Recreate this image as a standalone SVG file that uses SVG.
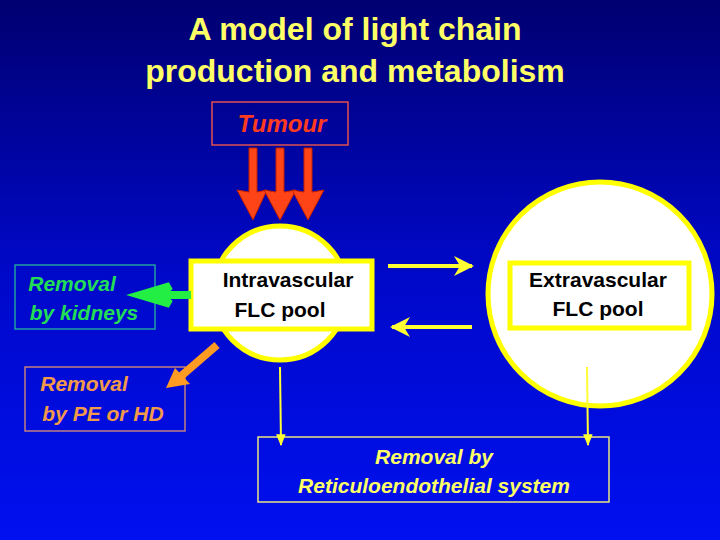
<svg xmlns="http://www.w3.org/2000/svg" width="720" height="540" viewBox="0 0 720 540">
<defs>
<linearGradient id="bg" x1="0" y1="0" x2="0" y2="1">
<stop offset="0" stop-color="#000070"/>
<stop offset="0.5" stop-color="#0008c8"/>
<stop offset="1" stop-color="#0010f0"/>
</linearGradient>
<marker id="ya" viewBox="0 0 10 10" refX="9" refY="5" markerWidth="5" markerHeight="5" orient="auto"><path d="M0,0 L10,5 L0,10 L3,5 Z" fill="#ffff33"/></marker>
<marker id="ys" viewBox="0 0 10 10" refX="9" refY="5" markerWidth="6" markerHeight="6" orient="auto"><path d="M0,1 L10,5 L0,9 Z" fill="#ffff33"/></marker>
</defs>
<style>
text{font-family:"Liberation Sans",Arial,sans-serif;font-weight:bold;text-anchor:middle}
.it{font-style:italic}
.pool{fill:#fff;stroke:#ffff00;stroke-width:5}
</style>
<rect width="720" height="540" fill="url(#bg)"/>
<g id="title"><text x="355" y="40" font-size="32" fill="#ffff66" font-weight="normal" style="font-weight:bold">A model of light chain</text><text x="355" y="82" font-size="32" fill="#ffff66">production and metabolism</text></g>
<g id="tumour"><rect x="212" y="102" width="136" height="43" fill="none" stroke="#e05050" stroke-width="1.5"/><text x="282" y="132" font-size="24" class="it" fill="#ff3b1f">Tumour</text></g>
<g id="intravascular"><circle cx="280" cy="293" r="67" class="pool"/><rect x="191" y="261" width="181" height="68" class="pool"/><text x="288" y="287" font-size="21" fill="#000">Intravascular</text><text x="280" y="317" font-size="21" fill="#000">FLC pool</text></g>
<g id="extravascular"><circle cx="600" cy="294" r="112" class="pool"/><rect x="510" y="263" width="179" height="65" class="pool"/><text x="598" y="287" font-size="21" fill="#000">Extravascular</text><text x="598" y="316" font-size="21" fill="#000">FLC pool</text></g>
<g id="kidneys"><rect x="15" y="265" width="140" height="64" fill="none" stroke="#20a0a0" stroke-width="1.5"/><text x="72" y="291" font-size="21" class="it" fill="#22dd55">Removal</text><text x="84" y="320" font-size="21" class="it" fill="#22dd55">by kidneys</text></g>
<g id="pehd"><rect x="25" y="367" width="160" height="64" fill="none" stroke="#c08080" stroke-width="1.5"/><text x="84" y="391" font-size="21" class="it" fill="#f39a4a">Removal</text><text x="103" y="421" font-size="21" class="it" fill="#f39a4a">by PE or HD</text></g>
<g id="res"><rect x="258" y="437" width="351" height="65" fill="none" stroke="#e8e880" stroke-width="1.5"/><text x="434" y="464" font-size="21" class="it" fill="#ffff66">Removal by</text><text x="434" y="493" font-size="21" class="it" fill="#ffff66">Reticuloendothelial  system</text></g>
<g id="connectors">
<g fill="#ff4418" stroke="#c02000" stroke-width="1">
<path d="M249,148 L257,148 L257,192 L267,190 L253,220 L237,190 L249,192 Z"/>
<path d="M276,148 L284,148 L284,192 L296,190 L280,220 L264,190 L276,192 Z"/>
<path d="M304,148 L312,148 L312,192 L324,190 L308,220 L292,190 L304,192 Z"/>
</g>
<path d="M191,295 L160,295 L170,286 L140,295 L170,304 L160,295" fill="#22ee44" stroke="#22ee44" stroke-width="8" stroke-linejoin="miter"/>
<path d="M217,345 L180,377" stroke="#ff9a22" stroke-width="8"/>
<path d="M166,388 L175,368 L190,384 Z" fill="#ff9a22"/>
<line x1="388" y1="266" x2="472" y2="266" stroke="#ffff33" stroke-width="4" marker-end="url(#ya)"/>
<line x1="472" y1="327" x2="392" y2="327" stroke="#ffff33" stroke-width="4" marker-end="url(#ya)"/>
<line x1="280" y1="367" x2="281" y2="445" stroke="#ffff33" stroke-width="2" marker-end="url(#ys)"/>
<line x1="587" y1="367" x2="588" y2="445" stroke="#ffff33" stroke-width="2" marker-end="url(#ys)"/>
</g>
</svg>
